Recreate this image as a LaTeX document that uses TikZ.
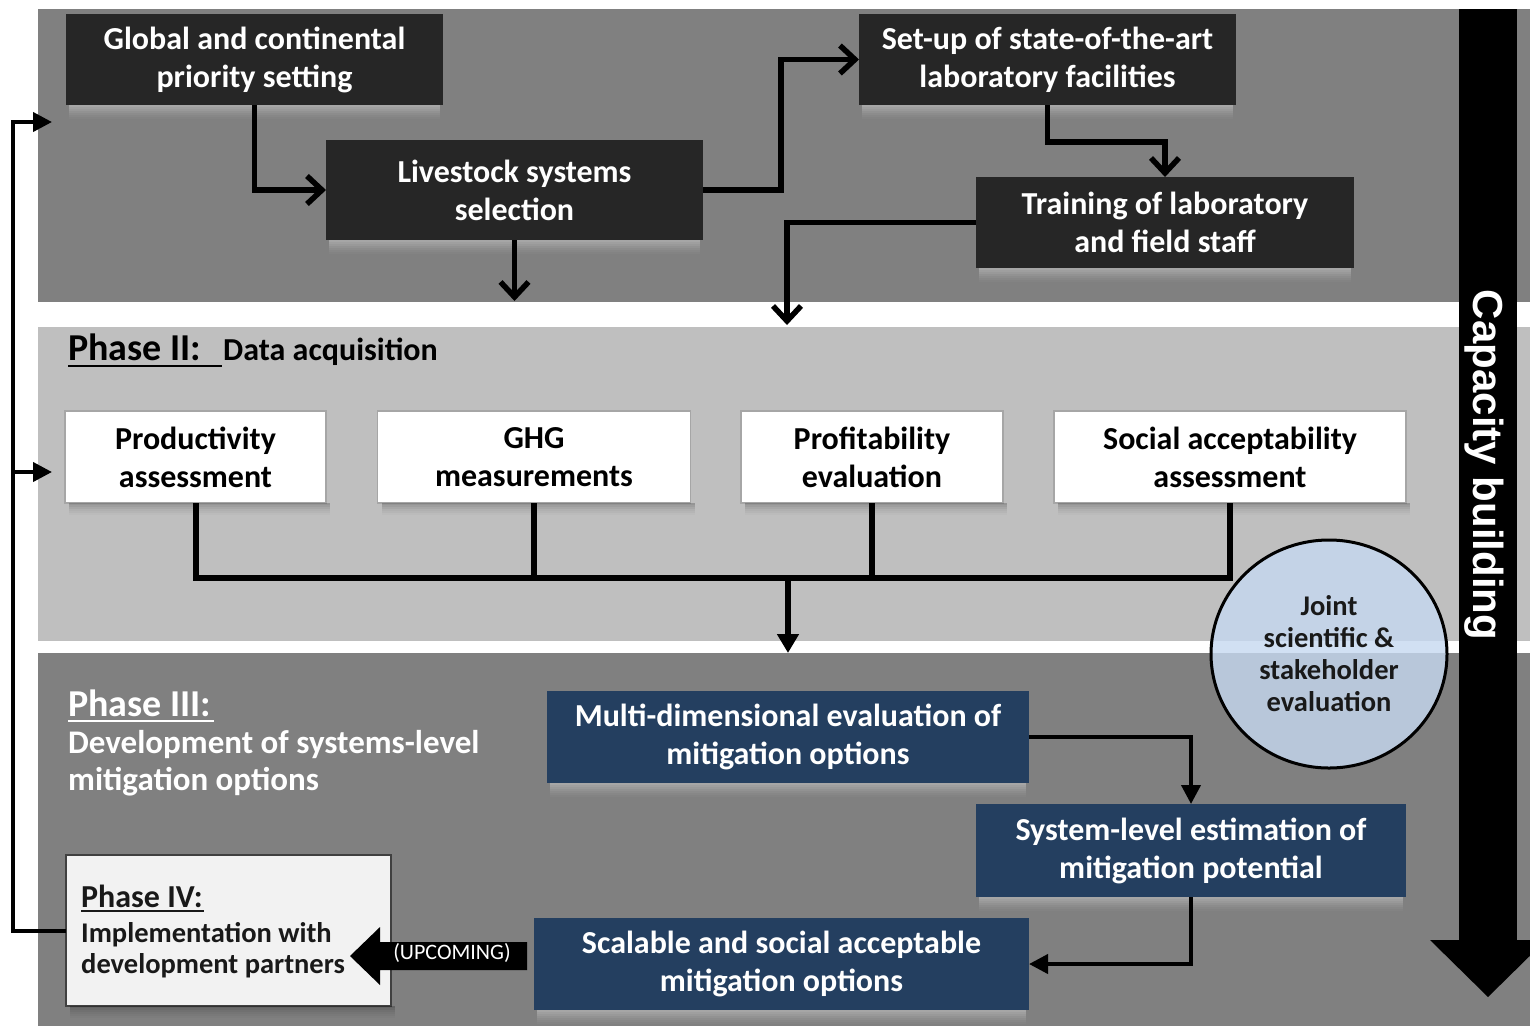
\documentclass[tikz,border=0pt]{standalone}
\usepackage{fontspec}
\setmainfont{Carlito}
\newfontfamily\capfont{Liberation Sans}
\usetikzlibrary{arrows.meta,calc,shapes.geometric}

\definecolor{panelD}{HTML}{808080}
\definecolor{panelL}{HTML}{BFBFBF}
\definecolor{boxdark}{HTML}{262626}
\definecolor{navy}{HTML}{243F60}
\definecolor{jointblue}{HTML}{C6D9F1}
\definecolor{pfourfill}{HTML}{F2F2F2}

% soft bands under the boxes
\newcommand\lightband[1]{%
  \foreach \k/\o in {0/0.30,2/0.25,4/0.20,6/0.15,8/0.10,10/0.06,12/0.03}{%
    \fill[white, opacity=\o] ($(#1.south west)+(3,\k)$) rectangle ($(#1.south east)+(-3,\k+2)$);
  }}
\newcommand\darkband[1]{%
  \foreach \k/\o in {0/0.22,2/0.17,4/0.12,6/0.08,8/0.05,10/0.02}{%
    \fill[black, opacity=\o] ($(#1.south west)+(4,\k)$) rectangle ($(#1.south east)+(4,\k+2)$);
  }}

\begin{document}
\begin{tikzpicture}[x=1pt,y=-1pt,
  boxtext/.style={font=\fontsize{32}{38}\selectfont\bfseries, align=center, inner sep=0pt, outer sep=0pt},
  darkbox/.style={boxtext, fill=boxdark, text=white},
  whitebox/.style={boxtext, fill=white, draw=black!35, line width=1.2pt, text=black},
  navybox/.style={boxtext, fill=navy, text=white},
  barbline/.style={line width=5.5pt, draw=black, -{Straight Barb[length=15pt,width=28pt]}},
  busline/.style={line width=6pt, draw=black},
  navyline/.style={line width=4pt, draw=black},
  fbline/.style={line width=4pt, draw=black},
  solidtip/.style={-{Triangle[length=19pt,width=19pt]}},
  title/.style={anchor=base west, inner sep=0pt, font=\fontsize{38}{44}\selectfont\bfseries},
  sub/.style={anchor=base west, inner sep=0pt, font=\fontsize{33}{38}\selectfont\bfseries},
  pfour/.style={anchor=base west, inner sep=0pt, font=\fontsize{28.5}{32}\selectfont\bfseries, text=black!90},
]
\useasboundingbox (0,0) rectangle (1530,1026);
\clip (0,0) rectangle (1530,1026);
\fill[white] (0,0) rectangle (1530,1026);

% three phase bands
\fill[panelD] (38,9) rectangle (1530,302);
\fill[panelL] (38,327) rectangle (1530,641);
\fill[panelD] (38,653) rectangle (1530,1026);

% capacity building bar
\fill[black] (1459,9) rectangle (1517,941);
\fill[black] (1430,940) -- (1546,940) -- (1488,997) -- cycle;
\node[rotate=-90, text=white, inner sep=0pt, font=\capfont\fontsize{42}{48}\selectfont\bfseries] (cap) at (1484,465) {Capacity building};

% ---------- Phase I ----------
\node[darkbox, minimum width=377pt, minimum height=91pt] (glob) at (254.5,59.5) {Global and continental\\priority setting};
\node[darkbox, minimum width=377pt, minimum height=100pt] (live) at (514.5,190) {Livestock systems\\selection};
\node[darkbox, minimum width=377pt, minimum height=91pt] (setup) at (1047.5,59.5) {Set-up of state-of-the-art\\laboratory facilities};
\node[darkbox, minimum width=378pt, minimum height=91pt] (train) at (1165,222.5) {Training of laboratory\\and field staff};
\lightband{glob}
\lightband{live}
\lightband{setup}
\lightband{train}

\coordinate (liveDown) at (514.5,301);
\coordinate (trainDown) at (787,325);
\draw[barbline] (glob.south) |- (live.west);
\draw[barbline] (live.south) -- (liveDown);
\draw[barbline] (live.east) -- ++(78,0) |- (setup.west);
\draw[barbline] (setup.south) -- ++(0,37) -| (train.north);
\draw[barbline] (train.west) -| (trainDown);

% ---------- Phase II ----------
\node[title, text=black] (p2title) at (68,360) {Phase II:};
\draw[line width=2.5pt, black] (68,366) -- (222,366);
\node[sub, text=black, font=\fontsize{32}{38}\selectfont\bfseries] (p2sub) at (223,360) {Data acquisition};

\node[whitebox, minimum width=261pt, minimum height=92pt] (prod) at (195.5,457) {Productivity\\assessment};
\node[whitebox, minimum width=313pt, minimum height=92pt] (ghg) at (534,457) {GHG\\measurements};
\node[whitebox, minimum width=262pt, minimum height=92pt] (prof) at (872,457) {Profitability\\evaluation};
\node[whitebox, minimum width=352pt, minimum height=92pt] (soc) at (1230,457) {Social acceptability\\assessment};
\darkband{prod}
\darkband{ghg}
\darkband{prof}
\darkband{soc}

\coordinate (bus) at (788,578);
\coordinate (p3in) at (788,653);
\draw[busline] (prod.south) |- (bus) -| (soc.south);
\draw[busline] (ghg.south) -- (ghg.south |- bus);
\draw[busline] (prof.south) -- (prof.south |- bus);
\draw[busline, -{Triangle[length=19pt,width=21pt]}] (bus) -- (p3in);

% ---------- Phase III ----------
\node[title, text=white] (p3title) at (68,716) {Phase III:};
\draw[line width=2.5pt, white] (68,721) -- (214,721);
\node[sub, text=white] (p3a) at (68,753) {Development of systems-level};
\node[sub, text=white] (p3b) at (68,790) {mitigation options};

\node[navybox, minimum width=482pt, minimum height=92pt] (multi) at (788,736.5) {Multi-dimensional evaluation of\\mitigation options};
\node[navybox, minimum width=430pt, minimum height=93pt] (sys) at (1191,850.5) {System-level estimation of\\mitigation potential};
\node[navybox, minimum width=495pt, minimum height=92pt] (scal) at (781.5,964) {Scalable and social acceptable\\mitigation options};
\lightband{multi}
\lightband{sys}
\lightband{scal}

\draw[navyline, solidtip] (multi.east) -| (sys.north);
\draw[navyline, solidtip] (sys.south) |- (scal.east);

% joint evaluation circle
\node[ellipse, draw=black, line width=3pt, fill=jointblue, fill opacity=0.8, text opacity=1,
      minimum width=236pt, minimum height=228pt, inner sep=0pt, align=center, text=black!90,
      font=\fontsize{28.5}{32}\selectfont\bfseries] (joint) at (1329,654)
      {Joint\\scientific \&\\stakeholder\\evaluation};

% ---------- Phase IV ----------
\node[fill=pfourfill, draw=black!75, line width=2pt, minimum width=325pt, minimum height=151pt, inner sep=0pt, outer sep=0pt] (p4) at (228,930.5) {};
\darkband{p4}
\node[pfour, font=\fontsize{32}{36}\selectfont\bfseries] (p4title) at (81,907) {Phase IV:};
\draw[line width=2pt, black!90] (81,911) -- (204,911);
\node[pfour] (p4a) at (81,942) {Implementation with};
\node[pfour] (p4b) at (81,973) {development partners};

% upcoming block arrow
\fill[black] (350,956) -- (380,927) -- (380,942) -- (527,942) -- (527,970) -- (380,970) -- (380,985) -- cycle;
\node[text=white, inner sep=0pt, font=\fontsize{22}{26}\selectfont] (upc) at (452,953) {(UPCOMING)};

% ---------- feedback loop ----------
\coordinate (fbTop) at (13,122);
\coordinate (fbMid) at (13,472);
\coordinate (inTop) at (52,122);
\coordinate (inMid) at (52,472);
\draw[fbline, solidtip] (p4.west) -| (fbTop) -- (inTop);
\draw[fbline, solidtip] (fbMid) -- (inMid);
\end{tikzpicture}
\end{document}
